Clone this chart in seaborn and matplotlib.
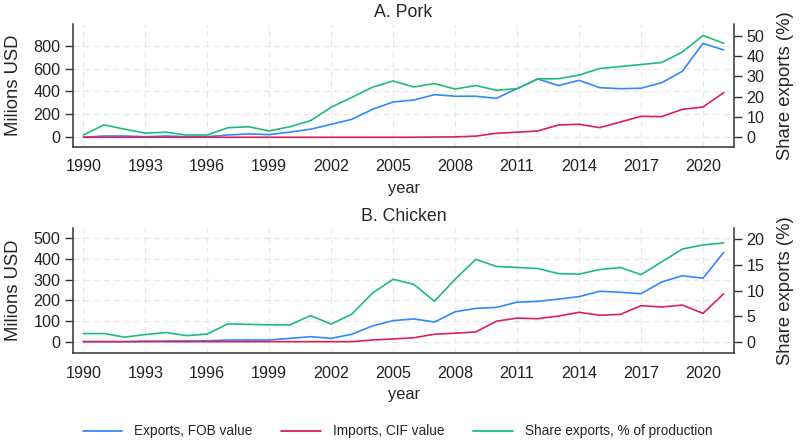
import numpy as np
import pandas as pd
import matplotlib
matplotlib.use('Agg')
import matplotlib.pyplot as plt
import seaborn as sns

years = list(range(1990, 2022))

# A. Pork (millions USD, share in %)
pork_exports = [0, 11, 11, 5, 11, 5, 5, 20, 29, 23, 45, 70, 113, 157, 244, 308,
                325, 372, 358, 358, 340, 425, 509, 451, 497, 433, 424, 428, 476, 576, 820, 762]
pork_imports = [0, 0, 0, 0, 0, 0, 0, 0, 0, 0, 0, 0, 0, 0, 0, 0,
                0, 2, 3, 10, 35, 44, 55, 107, 113, 84, 133, 183, 180, 244, 264, 389]
pork_share = [1.1, 6.1, 4.0, 2.0, 2.5, 1.1, 1.1, 4.7, 5.2, 3.1, 5.2, 8.2, 14.8, 19.7, 24.7, 27.8,
              24.8, 26.5, 23.8, 25.5, 23.2, 24.0, 28.8, 28.9, 30.7, 33.9, 34.9, 35.9, 36.9, 42.1, 50.2, 46.4]

# B. Chicken
chicken_exports = [0, 0, 0, 2, 3, 3, 4, 8, 8, 8, 16, 24, 16, 36, 76, 102,
                   110, 95, 145, 161, 166, 191, 195, 206, 218, 244, 239, 232, 289, 319, 307, 432]
chicken_imports = [0, 0, 0, 0, 0, 0, 0, 0, 0, 0, 0, 0, 0, 0, 8, 13,
                   19, 36, 41, 47, 99, 114, 111, 124, 142, 128, 132, 174, 168, 177, 137, 232]
chicken_share = [1.6, 1.6, 0.9, 1.4, 1.8, 1.2, 1.5, 3.5, 3.4, 3.3, 3.3, 5.1, 3.45, 5.4, 9.5, 12.2,
                 11.2, 7.9, 12.2, 16.1, 14.7, 14.5, 14.3, 13.3, 13.2, 14.1, 14.5, 13.1, 15.6, 18.1, 18.9, 19.3]

series_names = ['Exports, FOB value', 'Imports, CIF value', 'Share exports, % of production']
colors = ['#2f89ff', '#dc1f5b', '#1dbd78']

sns.set_style('white')
plt.rcParams['font.family'] = ['Liberation Sans', 'DejaVu Sans']

fig = plt.figure(figsize=(8, 4.41), dpi=100)

panels = [
    ('A. Pork', pork_exports, pork_imports, pork_share,
     [0.09125, 0.6667, 0.82625, 0.2789], (-85, 989), np.arange(0, 801, 200), (-4.8, 55.9), np.arange(0, 51, 10)),
    ('B. Chicken', chicken_exports, chicken_imports, chicken_share,
     [0.09125, 0.1995, 0.82625, 0.2834], (-55, 550), np.arange(0, 501, 100), (-2.2, 22.2), np.arange(0, 21, 5)),
]

spine_col = '#333333'
for title, exp, imp, share, rect, ylim, yticks, ylim2, yticks2 in panels:
    df = pd.DataFrame({'year': years, 'exports': exp, 'imports': imp, 'share': share})
    ax = fig.add_axes(rect)
    ax2 = ax.twinx()
    sns.lineplot(data=df, x='year', y='exports', ax=ax, color=colors[0], lw=1.2, legend=False)
    sns.lineplot(data=df, x='year', y='imports', ax=ax, color=colors[1], lw=1.2, legend=False)
    sns.lineplot(data=df, x='year', y='share', ax=ax2, color=colors[2], lw=1.2, legend=False)

    ax.set_xlim(1989.5, 2021.5)
    ax.set_ylim(*ylim)
    ax.set_yticks(yticks)
    ax.set_xticks(range(1990, 2021, 3))
    ax2.set_ylim(*ylim2)
    ax2.set_yticks(yticks2)

    ax.grid(True, color='#e8e8e8', linestyle=(0, (5, 3)), lw=0.9)
    ax.set_axisbelow(True)
    for a in (ax, ax2):
        a.spines['top'].set_visible(False)
        for s in ('left', 'right', 'bottom'):
            a.spines[s].set_color(spine_col)
            a.spines[s].set_linewidth(1.1)
        a.tick_params(axis='both', direction='out', length=6, width=1, color=spine_col,
                      labelsize=11.6, labelcolor='#222222', pad=3)
    ax2.spines['left'].set_visible(False)
    ax.spines['right'].set_visible(False)
    ax2.spines['bottom'].set_visible(False)

    ax.set_xlabel('year', fontsize=11.8, labelpad=5)
    ax.set_ylabel('Milions USD', fontsize=13.3, labelpad=8)
    ax2.set_ylabel('Share exports (%)', fontsize=13.3, labelpad=9)
    ax.set_title(title, fontsize=12.8, pad=5)

handles = [plt.Line2D([], [], color=c, lw=1.3) for c in colors]
fig.legend(handles, series_names, loc='center', bbox_to_anchor=(0.497, 0.022), ncol=3,
           frameon=False, fontsize=9.8, handlelength=2.9, columnspacing=2.1, handletextpad=0.9)

fig.savefig('out.png', dpi=100)
